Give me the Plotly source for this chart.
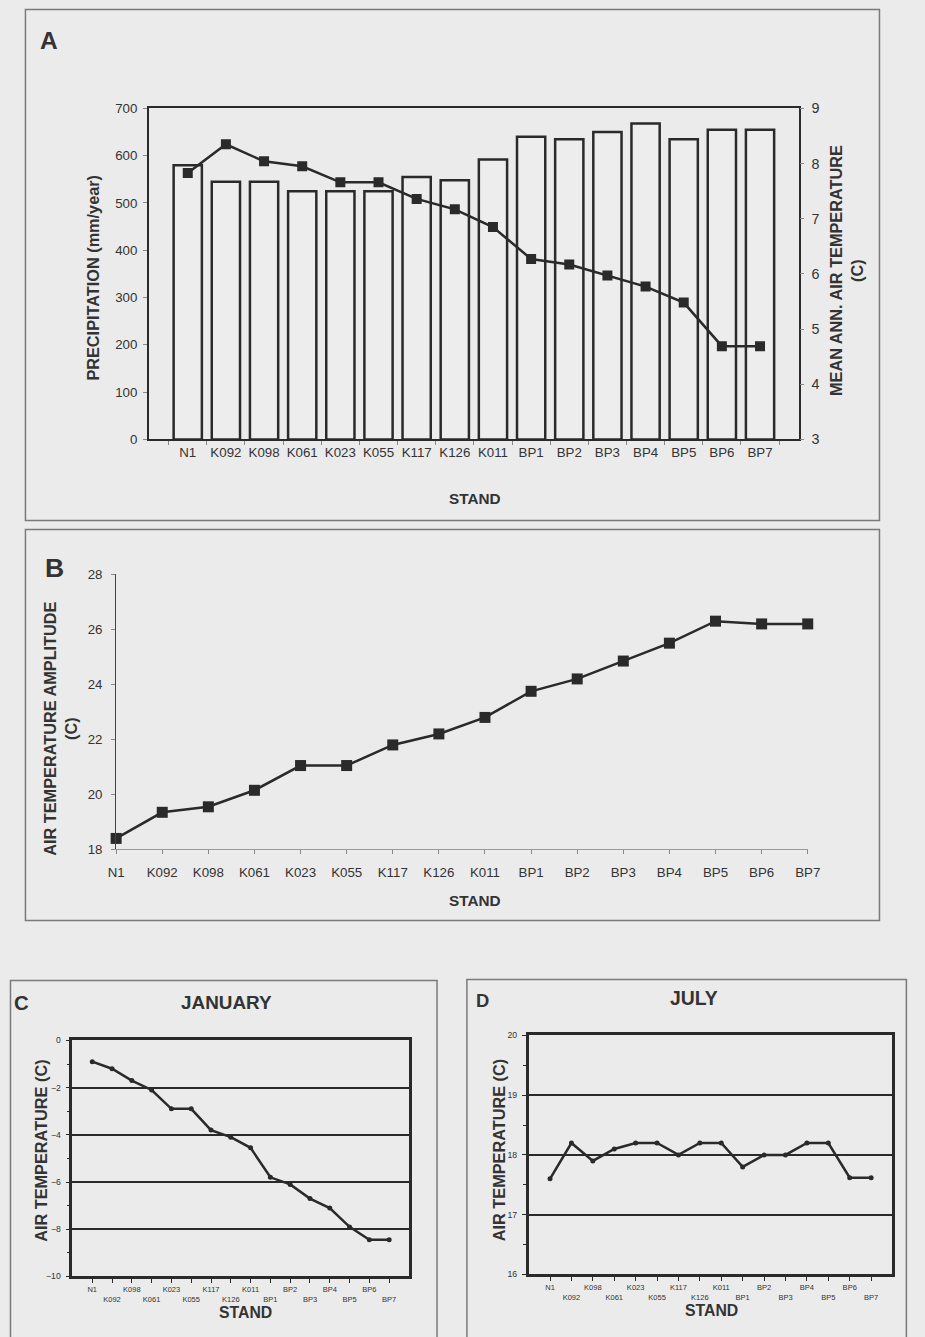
import plotly.graph_objects as go

# Stands along the transect
stands = ["N1", "K092", "K098", "K061", "K023", "K055", "K117", "K126", "K011",
          "BP1", "BP2", "BP3", "BP4", "BP5", "BP6", "BP7"]

# Panel A: annual precipitation (bars) and mean annual air temperature (line)
precip = [580, 545, 545, 525, 525, 525, 555, 548, 592,
          640, 635, 650, 668, 635, 655, 655]
mean_temp = [7.83, 8.35, 8.04, 7.95, 7.66, 7.66, 7.36, 7.17, 6.85,
             6.27, 6.17, 5.97, 5.77, 5.48, 4.69, 4.69]

# Panel B: air temperature amplitude
amplitude = [18.4, 19.35, 19.55, 20.15, 21.05, 21.05, 21.8, 22.2, 22.8,
             23.75, 24.2, 24.85, 25.5, 26.3, 26.2, 26.2]

# Panel C / D: January and July air temperature
jan_temp = [-0.9, -1.2, -1.7, -2.1, -2.9, -2.9, -3.8, -4.1, -4.55,
            -5.8, -6.1, -6.7, -7.1, -7.9, -8.45, -8.45]
jul_temp = [17.6, 18.2, 17.9, 18.1, 18.2, 18.2, 18.0, 18.2, 18.2,
            17.8, 18.0, 18.0, 18.2, 18.2, 17.62, 17.62]

W, H = 925, 1337
# the page view is slightly zoomed out and offset by the body margin;
# layout positions below are given in view pixels and converted here
SX, OX = 0.9796, 7.5
SY, OY = 0.988, 7.6
BG = "#ebebeb"
INK = "#2a2a2a"
TXT = "#333333"
FONT = "Arial, Liberation Sans, sans-serif"


def px(x):
    return (x - OX) / SX / W


def py(y):
    return 1 - (y - OY) / SY / H


def fs(size):
    return round(size / SX, 1)


# staggered labels for the small panels
stagger = [s if i % 2 == 0 else "<br>" + s for i, s in enumerate(stands)]

fig = go.Figure()

# ---- Panel A
fig.add_trace(go.Bar(x=stands, y=precip, xaxis="x", yaxis="y",
                     marker=dict(color="#ededed", line=dict(color=INK, width=2.5)),
                     showlegend=False))
fig.add_trace(go.Scatter(x=stands, y=mean_temp, xaxis="x", yaxis="y2",
                         mode="lines+markers",
                         line=dict(color=INK, width=2.5),
                         marker=dict(symbol="square", size=10, color=INK),
                         showlegend=False))

# ---- Panel B
fig.add_trace(go.Scatter(x=stands, y=amplitude, xaxis="x2", yaxis="y3",
                         mode="lines+markers", cliponaxis=False,
                         line=dict(color=INK, width=2.5),
                         marker=dict(symbol="square", size=11, color=INK),
                         showlegend=False))

# ---- Panel C
fig.add_trace(go.Scatter(x=stands, y=jan_temp, xaxis="x3", yaxis="y4",
                         mode="lines+markers",
                         line=dict(color=INK, width=2.5),
                         marker=dict(symbol="circle", size=5, color=INK),
                         showlegend=False))

# ---- Panel D
fig.add_trace(go.Scatter(x=stands, y=jul_temp, xaxis="x4", yaxis="y5",
                         mode="lines+markers",
                         line=dict(color=INK, width=2.5),
                         marker=dict(symbol="circle", size=5, color=INK),
                         showlegend=False))

tick_font = dict(family=FONT, size=fs(13), color=TXT)
small_font = dict(family=FONT, size=fs(7.3), color=TXT)
small_y_font = dict(family=FONT, size=fs(8.5), color=TXT)

fig.update_layout(
    width=W, height=H,
    margin=dict(l=0, r=0, t=0, b=0),
    paper_bgcolor=BG, plot_bgcolor=BG,
    bargap=0.26,
    font=dict(family=FONT, color=TXT),
    # A
    xaxis=dict(domain=[px(148), px(800)], anchor="y", type="category",
               showline=True, linecolor=INK, linewidth=2, mirror=True,
               ticks="outside", tickson="boundaries", ticklen=4, tickcolor="#888",
               tickangle=0, tickfont=tick_font, showgrid=False),
    yaxis=dict(domain=[py(439), py(108)], anchor="x", range=[0, 700], dtick=100,
               showline=True, linecolor=INK, linewidth=2, mirror=True,
               ticks="outside", ticklen=4, tickcolor="#888", ticklabelstandoff=3,
               tickfont=tick_font, showgrid=False, zeroline=False),
    yaxis2=dict(overlaying="y", anchor="x", side="right", range=[3, 9], dtick=1,
                showline=False, ticks="outside", ticklen=4, tickcolor="#888",
                ticklabelstandoff=5,
                tickfont=dict(family=FONT, size=fs(14), color=TXT),
                showgrid=False, zeroline=False),
    # B
    xaxis2=dict(domain=[px(115), px(809)], anchor="y3", type="category",
                range=[0, 15], showline=True, linecolor="#9a9a9a", linewidth=1,
                ticks="outside", ticklen=4, tickcolor="#888", ticklabelstandoff=7,
                tickangle=0, tickfont=tick_font, showgrid=False),
    yaxis3=dict(domain=[py(849), py(574)], anchor="x2", range=[18, 28], dtick=2,
                showline=True, linecolor="#444", linewidth=1,
                ticks="outside", ticklen=4, tickcolor="#888", ticklabelstandoff=6,
                tickfont=tick_font, showgrid=False, zeroline=False),
    yaxis6=dict(overlaying="y3", anchor="x2", range=[18, 28],
                tickmode="array", tickvals=[20, 22, 24, 26],
                showticklabels=False, ticks="", showline=False,
                showgrid=True, gridcolor="#555", gridwidth=1, griddash="dash",
                zeroline=False),
    # C
    xaxis3=dict(domain=[px(71), px(409)], anchor="y4", type="category",
                showline=True, linecolor=INK, linewidth=2.5, mirror=True,
                ticks="outside", ticklen=4, tickcolor=INK, tickangle=0,
                tickmode="array", tickvals=stands, ticktext=stagger,
                tickfont=small_font, showgrid=False),
    yaxis4=dict(domain=[py(1276), py(1040)], anchor="x3", range=[-10, 0], dtick=2,
                showline=True, linecolor=INK, linewidth=2.5, mirror=True,
                ticks="outside", ticklen=4, tickcolor=INK, ticklabelstandoff=3,
                minor=dict(dtick=1, ticks="outside", ticklen=3, tickcolor=INK),
                tickfont=small_y_font,
                showgrid=True, gridcolor=INK, gridwidth=2, zeroline=False),
    # D
    xaxis4=dict(domain=[px(529), px(894)], anchor="y5", type="category",
                showline=True, linecolor=INK, linewidth=2.5, mirror=True,
                ticks="outside", ticklen=4, tickcolor=INK, tickangle=0,
                tickmode="array", tickvals=stands, ticktext=stagger,
                tickfont=small_font, showgrid=False),
    yaxis5=dict(domain=[py(1274), py(1035)], anchor="x4", range=[16, 20], dtick=1,
                showline=True, linecolor=INK, linewidth=2.5, mirror=True,
                ticks="outside", ticklen=4, tickcolor=INK, ticklabelstandoff=3,
                minor=dict(dtick=0.5, ticks="outside", ticklen=3, tickcolor=INK),
                tickfont=small_y_font,
                showgrid=True, gridcolor=INK, gridwidth=2, zeroline=False),
)

# panel frames
frame = dict(type="rect", xref="paper", yref="paper",
             line=dict(color="#7a7a7a", width=1.5), fillcolor="rgba(0,0,0,0)",
             layer="below")
for x0, y0, x1, y1 in [(24, 9, 881, 520), (24, 529, 881, 920),
                       (9, 980, 437, 1345), (467, 979, 908, 1345)]:
    fig.add_shape(**frame, x0=px(x0), x1=px(x1), y0=py(y1), y1=py(y0))


def label(text, x, y, size, angle=0, bold=True):
    t = f"<b>{text}</b>" if bold else text
    fig.add_annotation(text=t, x=px(x), y=py(y), xref="paper", yref="paper",
                       showarrow=False, textangle=angle,
                       font=dict(family=FONT, size=fs(size), color=TXT),
                       xanchor="center", yanchor="middle")


# A
label("A", 48, 40, 24)
label("PRECIPITATION (mm/year)", 92, 277, 16, -90)
label("MEAN ANN. AIR TEMPERATURE<br>(C)", 848, 270, 16, -90)
label("STAND", 475, 498, 15)
# B
label("B", 53, 568, 26)
label("AIR TEMPERATURE AMPLITUDE<br>(C)", 59, 728, 16, -90)
label("STAND", 475, 900, 15)
# C
label("C", 20, 1003, 20)
label("JANUARY", 226, 1002, 18.5)
label("AIR TEMPERATURE (C)", 40, 1150, 16, -90)
label("STAND", 245, 1312, 15.5)
# D
label("D", 483, 1000, 18)
label("JULY", 695, 998, 19)
label("AIR TEMPERATURE (C)", 500, 1150, 16, -90)
label("STAND", 712, 1310, 15.5)

fig.write_html("out.html")
